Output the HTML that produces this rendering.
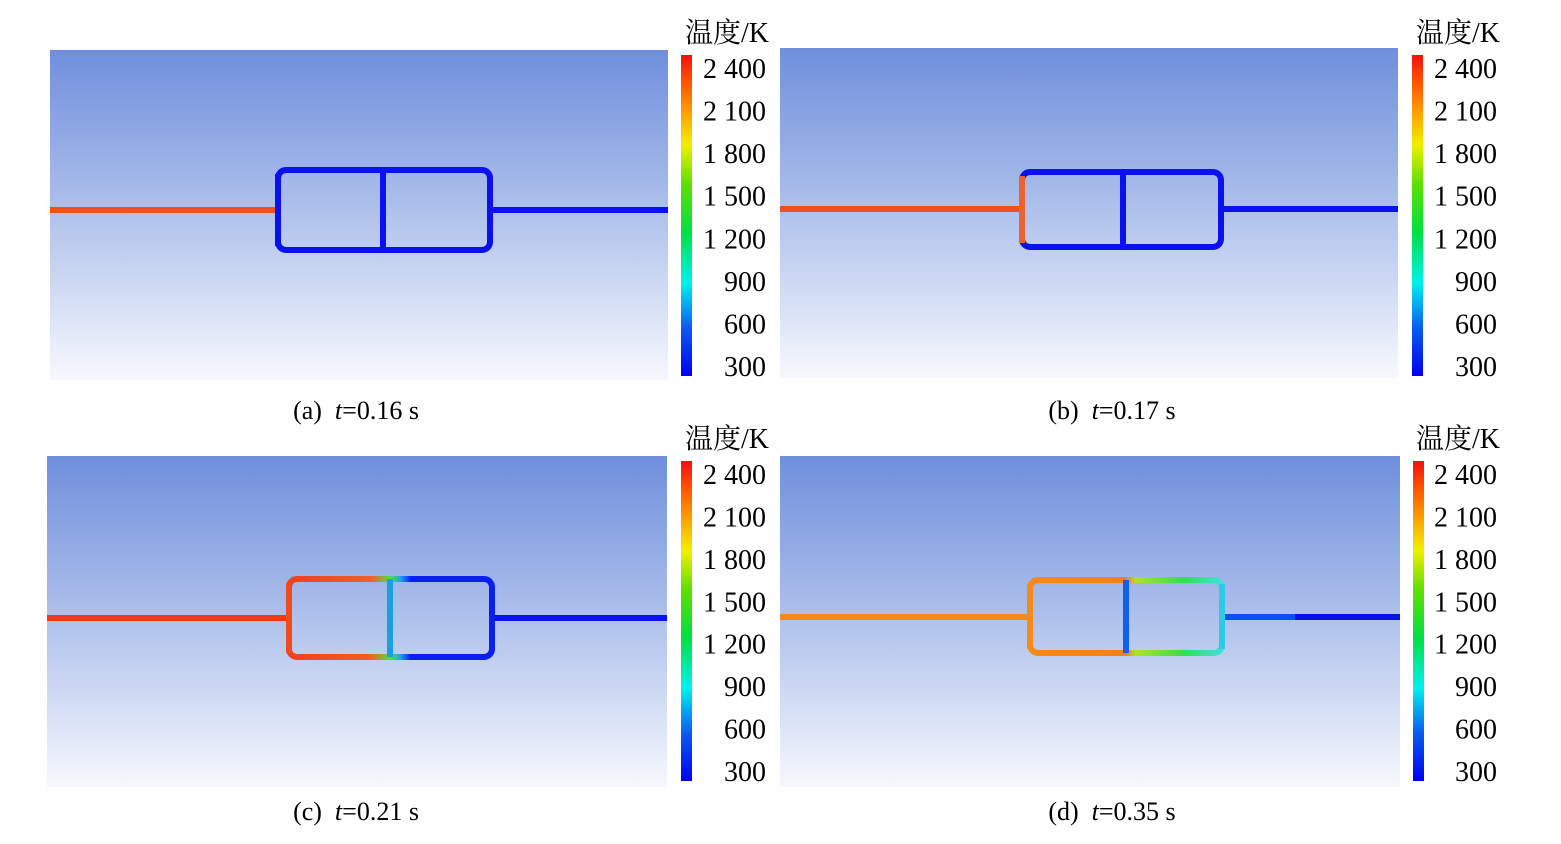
<!DOCTYPE html>
<html><head><meta charset="utf-8"><style>
html,body{margin:0;padding:0;background:#fff;width:1561px;height:844px;overflow:hidden}
svg text{font-family:"Liberation Serif","Noto Serif CJK SC",serif;fill:#000}
</style></head><body>
<svg id="fig" width="1561" height="844" viewBox="0 0 1561 844" xmlns="http://www.w3.org/2000/svg">
<defs>
<linearGradient id="bg" x1="0" y1="0" x2="0" y2="1">
<stop offset="0" stop-color="#6f8fdd"/><stop offset="0.45" stop-color="#a9bdea"/><stop offset="1" stop-color="#f6f8fd"/>
</linearGradient>
<linearGradient id="cb" x1="0" y1="1" x2="0" y2="0">
<stop offset="0" stop-color="#0000f0"/><stop offset="0.15" stop-color="#0a5cf0"/><stop offset="0.29" stop-color="#00f0f0"/>
<stop offset="0.45" stop-color="#00e040"/><stop offset="0.6" stop-color="#60e000"/><stop offset="0.72" stop-color="#f0f000"/>
<stop offset="0.82" stop-color="#ffa000"/><stop offset="0.92" stop-color="#ff5000"/><stop offset="1" stop-color="#f01010"/>
</linearGradient>
<linearGradient id="dTop" x1="0" y1="0" x2="1" y2="0">
<stop offset="0" stop-color="#f58a1a"/><stop offset="0.5" stop-color="#f08020"/><stop offset="0.55" stop-color="#b0e030"/><stop offset="0.8" stop-color="#30e050"/><stop offset="1" stop-color="#40e0e0"/>
</linearGradient>
<linearGradient id="cTop" x1="0" y1="0" x2="1" y2="0">
<stop offset="0" stop-color="#f04020"/><stop offset="0.4" stop-color="#f06020"/><stop offset="0.5" stop-color="#50e040"/><stop offset="0.55" stop-color="#20a0f0"/><stop offset="0.6" stop-color="#0a20f0"/><stop offset="1" stop-color="#0a20f0"/>
</linearGradient>
</defs>
<g id="panels"></g>
</svg>
<script>
const tickValues=[300,600,900,1200,1500,1800,2100,2400];
const tickLabels=["300","600","900","1 200","1 500","1 800","2 100","2 400"];
const captions=["(a)\u00a0\u00a0","(b)\u00a0\u00a0","(c)\u00a0\u00a0","(d)\u00a0\u00a0"];
const times=["0.16","0.17","0.21","0.35"];
const tMin=300,tMax=2400;
const NS="http://www.w3.org/2000/svg";
const root=document.getElementById('panels');
function el(tag,attrs,parent){const e=document.createElementNS(NS,tag);for(const k in attrs)e.setAttribute(k,attrs[k]);(parent||root).appendChild(e);return e;}
const layout=[
 {bx:50,by:50,bw:618,bh:330,cbx:681,cby:55,cbh:321,lx:766,title:32,cap:410,capx:356,
  r:[278,170,490,250],div:383,py:210,left:"#f05020",right:"#0a10f0",box:"#0a10f0",leftWall:"#0a10f0",divc:"#0a10f0"},
 {bx:780,by:48,bw:618,bh:330,cbx:1412,cby:55,cbh:321,lx:1497,title:32,cap:410,capx:1112,
  r:[1022,172,1221,247],div:1123,py:209,left:"#f05020",right:"#0a10f0",box:"#0a10f0",leftWall:"#f06030",divc:"#0a10f0"},
 {bx:47,by:456,bw:620,bh:331,cbx:681,cby:461,cbh:320,lx:766,title:438,cap:811,capx:356,
  r:[289,579,492,657],div:390,py:618,left:"#f03818",right:"#0a10f0",box:"url(#cTop)",leftWall:"#f04a20",divc:"#1aa0e0"},
 {bx:780,by:456,bw:620,bh:331,cbx:1413,cby:461,cbh:320,lx:1497,title:438,cap:811,capx:1112,
  r:[1030,580,1222,653],div:1126,py:617,left:"#f58a1a",right:"#0a50f0",box:"url(#dTop)",leftWall:"#f58a1a",divc:"#1060f0"}
];
layout.forEach((p,i)=>{
 const g=el('g',{});
 
 
 const bg=el('rect',{x:p.bx,y:p.by,width:p.bw,height:p.bh,fill:'url(#bg)'},g);
 
 
 const [x1,y1,x2,y2]=p.r;
 const lp=el('line',{x1:p.bx,y1:p.py,x2:x1,y2:p.py,stroke:p.left,'stroke-width':6},g);
 
 
 const rp=el('line',{x1:x2,y1:p.py,x2:p.bx+p.bw,y2:p.py,stroke:p.right,'stroke-width':6},g);
 
 
 if(i==3){el('line',{x1:1295,y1:p.py,x2:p.bx+p.bw,y2:p.py,stroke:'#0a10e8','stroke-width':6},g);}
 const box=el('rect',{x:x1,y:y1,width:x2-x1,height:y2-y1,rx:8,fill:'none',stroke:p.box,'stroke-width':6},g);
 
 
 el('line',{x1:x1,y1:y1+4,x2:x1,y2:y2-4,stroke:p.leftWall,'stroke-width':6},g);
 if(i==3){el('line',{x1:x2,y1:y1+4,x2:x2,y2:y2-4,stroke:'#30c8e8','stroke-width':6},g);}
 const dv=el('line',{x1:p.div,y1:y1,x2:p.div,y2:y2,stroke:p.divc,'stroke-width':6},g);
 
 
 const cb=el('rect',{x:p.cbx,y:p.cby,width:11,height:p.cbh,fill:'url(#cb)'},g);
 
 
 const tt=el('text',{x:p.lx+3,y:p.title+10,'font-size':28,'text-anchor':'end'},g);
 tt.textContent='温度/K';
 
 
 const top=p.cby+13,bot=p.cby+p.cbh-10;
 tickValues.forEach((v,k)=>{
  const y=bot-(v-tMin)/(tMax-tMin)*(bot-top);
  const t=el('text',{x:p.lx,y:y+10,'font-size':28,'text-anchor':'end'},g);
  t.textContent=tickLabels[k];
  
  
 });
 const c=el('text',{x:p.capx,y:p.cap+9,'font-size':26,'text-anchor':'middle'},g);
 
 
 c.innerHTML=captions[i]+'<tspan font-style="italic">t</tspan>='+times[i]+' s';
});
</script>
</body></html>
